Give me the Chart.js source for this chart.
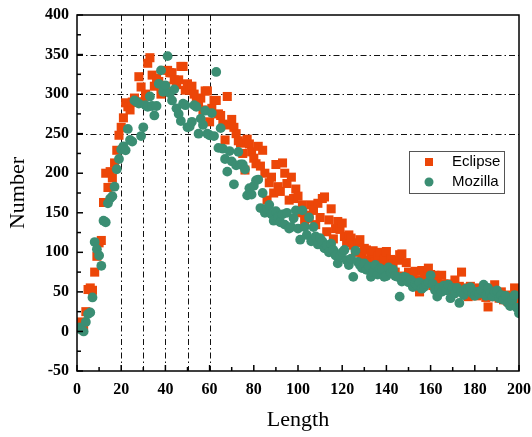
<!DOCTYPE html>
<html>
<head>
<meta charset="utf-8">
<script src="https://cdn.jsdelivr.net/npm/chart.js@4"></script>
<style>
  html, body { margin: 0; padding: 0; background: #fff; }
  #wrap { width: 532px; height: 437px; }
</style>
</head>
<body>
<div id="wrap"><canvas id="chart" width="532" height="437"></canvas></div>
<script>
// Length values (x) shared by both series
const lengths = [
  1, 2, 3, 4, 5, 6, 7, 8, 9, 10, 11, 12, 13, 14, 15, 16, 17, 18, 19, 20,
  21, 22, 23, 24, 25, 26, 27, 28, 29, 30, 31, 32, 33, 34, 35, 36, 37, 38, 39, 40,
  41, 42, 43, 44, 45, 46, 47, 48, 49, 50, 51, 52, 53, 54, 55, 56, 57, 58, 59, 60,
  61, 62, 63, 64, 65, 66, 67, 68, 69, 70, 71, 72, 73, 74, 75, 76, 77, 78, 79, 80,
  81, 82, 83, 84, 85, 86, 87, 88, 89, 90, 91, 92, 93, 94, 95, 96, 97, 98, 99, 100,
  101, 102, 103, 104, 105, 106, 107, 108, 109, 110, 111, 112, 113, 114, 115, 116, 117, 118, 119, 120,
  121, 122, 123, 124, 125, 126, 127, 128, 129, 130, 131, 132, 133, 134, 135, 136, 137, 138, 139, 140,
  141, 142, 143, 144, 145, 146, 147, 148, 149, 150, 151, 152, 153, 154, 155, 156, 157, 158, 159, 160,
  161, 162, 163, 164, 165, 166, 167, 168, 169, 170, 171, 172, 173, 174, 175, 176, 177, 178, 179, 180,
  181, 182, 183, 184, 185, 186, 187, 188, 189, 190, 191, 192, 193, 194, 195, 196, 197, 198, 199, 200
];

// Number of reports per length
const eclipse = [
  10, 12, 8, 25, 53, 55, 52, 75, 95, 112, 115, 163, 200, 182, 202, 194, 213, 229, 248, 258,
  270, 289, 284, 280, 290, 295, 290, 322, 309, 290, 300, 339, 346, 324, 310, 320, 316, 300, 305, 310,
  330, 327, 327, 318, 312, 318, 335, 335, 305, 313, 305, 310, 300, 290, 285, 295, 280, 304, 304, 265,
  282, 292, 292, 275, 273, 262, 242, 297, 261, 268, 258, 250, 241, 238, 225, 204, 243, 237, 227, 219,
  212, 234, 209, 229, 200, 166, 188, 195, 175, 211, 183, 177, 213, 200, 187, 166, 195, 168, 180, 171,
  150, 160, 140, 147, 143, 160, 153, 135, 162, 144, 168, 170, 126, 141, 155, 117, 130, 139, 129, 137,
  120, 112, 122, 118, 109, 100, 112, 116, 95, 105, 103, 90, 98, 102, 88, 95, 100, 85, 92, 101,
  80, 91, 85, 75, 90, 97, 98, 70, 87, 75, 68, 72, 76, 65, 50, 77, 70, 62, 80, 72,
  58, 71, 62, 55, 71, 60, 52, 60, 56, 48, 65, 52, 57, 75, 50, 55, 44, 57, 48, 52,
  45, 55, 50, 47, 43, 31, 52, 44, 59, 48, 42, 50, 40, 46, 38, 44, 42, 55, 40, 52
];

const mozilla = [
  5, 2, 0, 12, 22, 24, 43, 113, 104, 96, 83, 140, 138, 162, 168, 171, 183, 205, 218, 230,
  234, 229, 256, 242, 240, 292, 290, 288, 247, 258, 286, 284, 297, 285, 273, 285, 313, 330, 303, 311,
  348, 301, 292, 306, 282, 275, 266, 288, 286, 258, 259, 265, 286, 284, 250, 269, 261, 279, 250, 248,
  276, 247, 328, 232, 257, 231, 218, 202, 228, 215, 186, 210, 227, 211, 211, 205, 172, 181, 173, 184,
  191, 192, 156, 175, 150, 155, 160, 148, 140, 152, 145, 138, 148, 135, 150, 130, 132, 143, 153, 130,
  116, 153, 132, 122, 144, 114, 132, 120, 110, 118, 114, 105, 109, 100, 111, 103, 96, 86, 95, 100,
  103, 90, 84, 92, 69, 102, 88, 84, 80, 86, 78, 82, 69, 75, 84, 72, 80, 78, 69, 70,
  81, 74, 78, 70, 69, 44, 63, 69, 68, 62, 65, 56, 61, 58, 62, 54, 56, 60, 62, 71,
  60, 52, 44, 55, 50, 58, 52, 59, 42, 55, 48, 55, 36, 50, 46, 54, 52, 56, 48, 45,
  50, 48, 52, 59, 45, 55, 48, 44, 50, 52, 42, 46, 40, 45, 36, 32, 40, 46, 30, 23
];

// dash-dot guide lines
const guideLengths = [20, 30, 40, 50, 60];
const guideNumbers = [250, 300, 350];

const ORANGE = '#EC4608';
const GREEN = '#3B8E73';
const SERIF = '"Liberation Serif", "Times New Roman", serif';
const SANS = '"Liberation Sans", Arial, sans-serif';

function toPoints(ys) {
  return lengths.map((x, i) => ({ x: x, y: ys[i] }));
}

const framePlugin = {
  id: 'frameAndGuides',
  beforeDatasetsDraw(chart) {
    const { ctx, chartArea: a, scales: { x, y } } = chart;
    ctx.save();
    ctx.strokeStyle = '#111';
    ctx.lineWidth = 1;
    ctx.setLineDash([6, 3, 1.5, 3]);
    guideLengths.forEach(v => {
      const px = Math.round(x.getPixelForValue(v)) + 0.5;
      ctx.beginPath();
      ctx.moveTo(px, a.top);
      ctx.lineTo(px, a.bottom);
      ctx.stroke();
    });
    guideNumbers.forEach(v => {
      const py = Math.round(y.getPixelForValue(v)) + 0.5;
      ctx.beginPath();
      ctx.moveTo(a.left, py);
      ctx.lineTo(a.right, py);
      ctx.stroke();
    });
    ctx.restore();
  },
  afterDatasetsDraw(chart) {
    const { ctx, chartArea: a, scales: { x, y } } = chart;
    ctx.save();
    ctx.strokeStyle = '#000';
    ctx.lineWidth = 1.5;
    ctx.setLineDash([]);
    ctx.strokeRect(a.left, a.top, a.right - a.left, a.bottom - a.top);

    // inward ticks, minor every 10 / 25
    for (let v = 0; v <= 200; v += 10) {
      const px = x.getPixelForValue(v);
      const len = v % 20 === 0 ? 6 : 4;
      ctx.beginPath();
      ctx.moveTo(px, a.bottom);
      ctx.lineTo(px, a.bottom - len);
      ctx.stroke();
    }
    for (let v = -50; v <= 400; v += 25) {
      const py = y.getPixelForValue(v);
      const len = v % 50 === 0 ? 6 : 4;
      ctx.beginPath();
      ctx.moveTo(a.left, py);
      ctx.lineTo(a.left + len, py);
      ctx.stroke();
    }
    ctx.restore();
  },
  afterDraw(chart) {
    const { ctx } = chart;
    const box = { x: 409, y: 151, w: 95, h: 42 };
    ctx.save();
    ctx.fillStyle = '#fff';
    ctx.fillRect(box.x, box.y, box.w, box.h);
    ctx.strokeStyle = '#555';
    ctx.lineWidth = 1;
    ctx.strokeRect(box.x + 0.5, box.y + 0.5, box.w, box.h);

    ctx.fillStyle = ORANGE;
    ctx.fillRect(425, 158, 8, 8);
    ctx.fillStyle = GREEN;
    ctx.beginPath();
    ctx.arc(429, 182, 4.5, 0, Math.PI * 2);
    ctx.fill();

    ctx.fillStyle = '#000';
    ctx.font = '15px ' + SANS;
    ctx.textBaseline = 'middle';
    ctx.textAlign = 'left';
    ctx.fillText(chart.data.datasets[0].label, 452, 162);
    ctx.fillText(chart.data.datasets[1].label, 452, 182);
    ctx.restore();
  }
};

new Chart(document.getElementById('chart'), {
  type: 'scatter',
  data: {
    datasets: [
      {
        label: 'Eclipse',
        data: toPoints(eclipse),
        pointStyle: 'rect',
        pointRadius: 6.4,
        pointHoverRadius: 6.4,
        backgroundColor: ORANGE,
        borderColor: ORANGE,
        borderWidth: 0,
        order: 1
      },
      {
        label: 'Mozilla',
        data: toPoints(mozilla),
        pointStyle: 'circle',
        pointRadius: 4.9,
        pointHoverRadius: 4.9,
        backgroundColor: GREEN,
        borderColor: GREEN,
        borderWidth: 0,
        order: 0
      }
    ]
  },
  options: {
    responsive: false,
    animation: false,
    layout: { autoPadding: false, padding: { top: 15, right: 13, left: 0, bottom: 0 } },
    plugins: {
      legend: { display: false },
      tooltip: { enabled: false }
    },
    scales: {
      x: {
        type: 'linear',
        min: 0,
        max: 200,
        grid: { display: false, drawTicks: false },
        border: { display: false },
        ticks: {
          stepSize: 20,
          padding: 9,
          color: '#000',
          maxRotation: 0,
          font: { family: SERIF, size: 16, weight: 'bold' }
        },
        title: {
          display: true,
          text: 'Length',
          color: '#000',
          padding: { top: 0, bottom: 4 },
          font: { family: SERIF, size: 22 }
        },
        afterFit(scale) {
          scale.height = 66;
          scale.paddingLeft = 0;
          scale.paddingRight = 0;
        }
      },
      y: {
        min: -50,
        max: 400,
        grid: { display: false, drawTicks: false },
        border: { display: false },
        ticks: {
          stepSize: 50,
          padding: 8,
          color: '#000',
          font: { family: SERIF, size: 16, weight: 'bold' }
        },
        title: {
          display: true,
          text: 'Number',
          color: '#000',
          padding: { top: 5, bottom: 0 },
          font: { family: SERIF, size: 22 }
        },
        afterFit(scale) {
          scale.width = 77;
          scale.paddingTop = 0;
          scale.paddingBottom = 0;
        }
      }
    }
  },
  plugins: [framePlugin]
});
</script>
</body>
</html>
